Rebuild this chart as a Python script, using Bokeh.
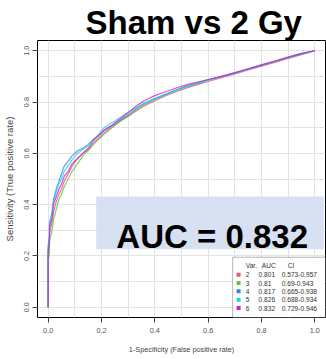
from bokeh.plotting import figure
from bokeh.models import FixedTicker, PrintfTickFormatter, Label, BoxAnnotation, Range1d, ColumnDataSource
from bokeh.embed import file_html
from bokeh.resources import INLINE
from bokeh.core.properties import value

# ---- data ----
fpr = [0, 0, 0.005, 0.005, 0.015, 0.02, 0.03, 0.04, 0.05, 0.06, 0.075, 0.09, 0.11, 0.13,
       0.15, 0.17, 0.19, 0.21, 0.24, 0.27, 0.30, 0.33, 0.36, 0.40, 0.44, 0.48, 0.52, 0.56,
       0.60, 0.65, 0.70, 0.75, 0.80, 0.85, 0.90, 0.95, 1.0]
tpr_2 = [0, 0.20, 0.25, 0.29, 0.33, 0.37, 0.41, 0.44, 0.46, 0.49, 0.52, 0.55, 0.58, 0.60,
         0.615, 0.64, 0.66, 0.68, 0.705, 0.725, 0.745, 0.765, 0.785, 0.805, 0.825, 0.84,
         0.855, 0.868, 0.88, 0.895, 0.91, 0.925, 0.94, 0.955, 0.97, 0.985, 1.0]
tpr_3 = [0, 0.18, 0.21, 0.26, 0.30, 0.34, 0.38, 0.42, 0.44, 0.47, 0.50, 0.53, 0.56, 0.59,
         0.61, 0.635, 0.655, 0.675, 0.70, 0.725, 0.745, 0.77, 0.79, 0.81, 0.83, 0.845,
         0.86, 0.87, 0.885, 0.90, 0.912, 0.93, 0.945, 0.958, 0.972, 0.987, 1.0]
tpr_4 = [0, 0.24, 0.28, 0.33, 0.37, 0.42, 0.46, 0.49, 0.52, 0.55, 0.57, 0.59, 0.61, 0.62,
         0.635, 0.655, 0.67, 0.69, 0.71, 0.73, 0.75, 0.775, 0.795, 0.815, 0.83, 0.848,
         0.862, 0.875, 0.887, 0.90, 0.913, 0.928, 0.943, 0.958, 0.973, 0.988, 1.0]
tpr_5 = [0, 0.23, 0.27, 0.32, 0.37, 0.41, 0.45, 0.48, 0.50, 0.53, 0.55, 0.575, 0.60, 0.615,
         0.63, 0.655, 0.675, 0.70, 0.72, 0.74, 0.76, 0.78, 0.795, 0.812, 0.828, 0.845,
         0.86, 0.873, 0.886, 0.90, 0.914, 0.93, 0.945, 0.96, 0.975, 0.99, 1.0]
tpr_6 = [0, 0.22, 0.26, 0.31, 0.35, 0.40, 0.43, 0.46, 0.48, 0.51, 0.53, 0.56, 0.58, 0.60,
         0.62, 0.65, 0.67, 0.69, 0.71, 0.735, 0.758, 0.785, 0.805, 0.825, 0.84, 0.855,
         0.868, 0.878, 0.888, 0.90, 0.915, 0.93, 0.945, 0.96, 0.975, 0.99, 1.0]

series = [tpr_2, tpr_3, tpr_4, tpr_5, tpr_6]
leg_var = ["2", "3", "4", "5", "6"]
leg_auc = ["0.801", "0.81", "0.817", "0.826", "0.832"]
leg_ci = ["0.573-0.957", "0.69-0.943", "0.665-0.938", "0.688-0.934", "0.729-0.946"]
colors = ["#ea5470", "#5cc83c", "#3a86e6", "#22d2e6", "#d41fd2"]

x_ticks = [0.0, 0.2, 0.4, 0.6, 0.8, 1.0]
grid_ticks = [0.0, 0.1, 0.2, 0.3, 0.4, 0.5, 0.6, 0.7, 0.8, 0.9, 1.0]

title_text = "Sham vs 2 Gy"
auc_text = "AUC = 0.832"

FONT = "Liberation Sans"

p = figure(width=326, height=359, x_range=Range1d(-0.04, 1.04), y_range=Range1d(-0.04, 1.04),
           output_backend="svg", toolbar_location=None,
           min_border_left=37, min_border_right=1, min_border_top=40, min_border_bottom=42)
p.outline_line_color = "black"
p.outline_line_width = 1
p.background_fill_color = "white"
p.border_fill_color = "white"

p.title.text = title_text
p.title.align = "left"
p.title.offset = 48
p.title.standoff = 0
p.title.text_font = FONT
p.title.text_font_size = "33px"
p.title.text_font_style = "bold"
p.title.text_color = "black"

for ax in (p.xaxis[0], p.yaxis[0]):
    ax.ticker = FixedTicker(ticks=x_ticks)
    ax.formatter = PrintfTickFormatter(format="%.1f")
    ax.axis_line_color = None
    ax.major_tick_out = 5
    ax.major_tick_in = 0
    ax.major_tick_line_color = "#444444"
    ax.minor_tick_line_color = None
    ax.major_label_text_font = FONT
    ax.major_label_text_font_size = "7.3px"
    ax.major_label_text_color = "#555555"
    ax.axis_label_text_font = FONT
    ax.axis_label_text_font_style = "normal"
    ax.axis_label_text_color = "#444444"

p.xaxis.axis_label = "1-Specificity (False positive rate)"
p.yaxis.axis_label = "Sensitivity (True positive rate)"
p.xaxis.axis_label_text_font_size = "7.3px"
p.yaxis.axis_label_text_font_size = "9.5px"
p.xaxis.major_label_standoff = 5
p.xaxis.axis_label_standoff = 9
p.yaxis.major_label_standoff = 3
p.yaxis.axis_label_standoff = 7
p.yaxis.major_label_orientation = "vertical"

for g in (p.xgrid[0], p.ygrid[0]):
    g.ticker = FixedTicker(ticks=grid_ticks)
    g.grid_line_color = "#e3e3e3"
    g.grid_line_width = 1

for tpr, c in zip(series, colors):
    p.line(fpr, tpr, line_color=c, line_width=1.2, line_alpha=0.8)

# AUC box
p.add_layout(BoxAnnotation(left=0.18, right=1.034, top=0.432, bottom=0.226,
                           fill_color="#d7e1f1", fill_alpha=1, line_color=None))
p.add_layout(Label(x=0.615, y=0.276, text=auc_text, text_align="center",
                   text_baseline="alphabetic", text_font=FONT, text_font_size="33px",
                   text_font_style="bold", text_color="black"))

# Legend box
p.add_layout(BoxAnnotation(left=0.692, right=1.04, top=0.195, bottom=-0.04,
                           fill_color="white", fill_alpha=1, line_color="black",
                           line_width=1, level="underlay"))

row_y = [0.127 - i * 0.0325 for i in range(len(leg_var))]
src = ColumnDataSource(dict(y=row_y, var=leg_var, auc=leg_auc, ci=leg_ci, color=colors,
                            xs=[0.714] * 5, xv=[0.748] * 5, xa=[0.789] * 5, xc=[0.876] * 5))
p.scatter(x="xs", y="y", source=src, marker="square", size=4, fill_color="color", line_color=None)
common = dict(source=src, y="y", text_baseline="middle", text_font=value(FONT),
              text_font_size="6.6px", text_color="#333333")
p.text(x="xv", text="var", text_align="center", **common)
p.text(x="xa", text="auc", text_align="left", **common)
p.text(x="xc", text="ci", text_align="left", **common)

hdr = ColumnDataSource(dict(x=[0.741, 0.801, 0.898], y=[0.163] * 3, t=["Var.", "AUC", "CI"]))
p.text(x="x", y="y", text="t", source=hdr, text_align="left", text_baseline="middle",
       text_font=value(FONT), text_font_size="6.6px", text_color="#333333")

open("out.html", "w").write(file_html(p, INLINE))
